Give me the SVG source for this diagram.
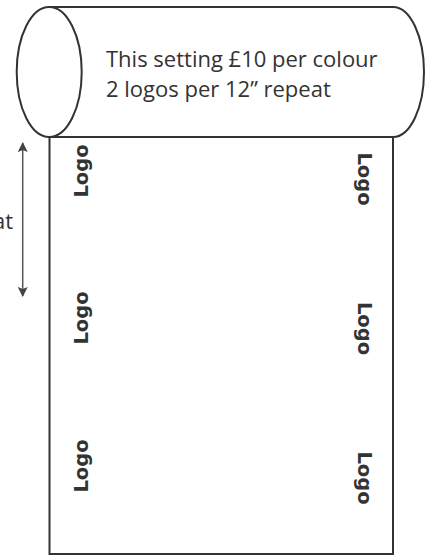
<svg xmlns="http://www.w3.org/2000/svg" width="430" height="556" viewBox="0 0 430 556">
<defs>
<style>
.ln{fill:none;stroke:#333;stroke-width:2}
.cap{fill:#fff;stroke:#333;stroke-width:2}
.txt{font-family:"Open Sans","Liberation Sans",sans-serif;font-size:22px;fill:#333}
.logo{font-family:"DejaVu Sans","Liberation Sans",sans-serif;font-weight:bold;font-size:19.5px;fill:#333;text-anchor:middle}
.dim{stroke:#555;stroke-width:1.5;fill:none}
</style>
<marker id="ah" viewBox="0 0 10 10" refX="9" refY="5" markerWidth="10" markerHeight="10" markerUnits="userSpaceOnUse" orient="auto-start-reverse">
<path d="M0,0 L10,5 L0,10 L2,5 Z" fill="#444"/>
</marker>
</defs>
<g id="web">
<rect x="49.5" y="137" width="343.5" height="417" class="ln"/>
</g>
<g id="roll">
<path d="M49,7 L393,7 A31,65 0 0 1 393,137 L49,137" class="cap"/>
<ellipse cx="49.2" cy="72" rx="32.5" ry="65" class="cap"/>
<text class="txt" x="106" y="67">This setting £10 per colour</text>
<text class="txt" x="106" y="97">2 logos per 12” repeat</text>
</g>
<g id="logos">
<text class="logo" transform="translate(88.2,171) rotate(-90)">Logo</text>
<text class="logo" transform="translate(88.2,318) rotate(-90)">Logo</text>
<text class="logo" transform="translate(88.2,466) rotate(-90)">Logo</text>
<text class="logo" transform="translate(357.8,179) rotate(90)">Logo</text>
<text class="logo" transform="translate(357.8,328.5) rotate(90)">Logo</text>
<text class="logo" transform="translate(357.8,478) rotate(90)">Logo</text>
</g>
<g id="connectors">
<line x1="22.7" y1="143" x2="22.7" y2="296" class="dim" marker-start="url(#ah)" marker-end="url(#ah)"/>
</g>
<g id="repeat-label">
<text class="txt" x="13" y="229" text-anchor="end">at</text>
</g>
</svg>
